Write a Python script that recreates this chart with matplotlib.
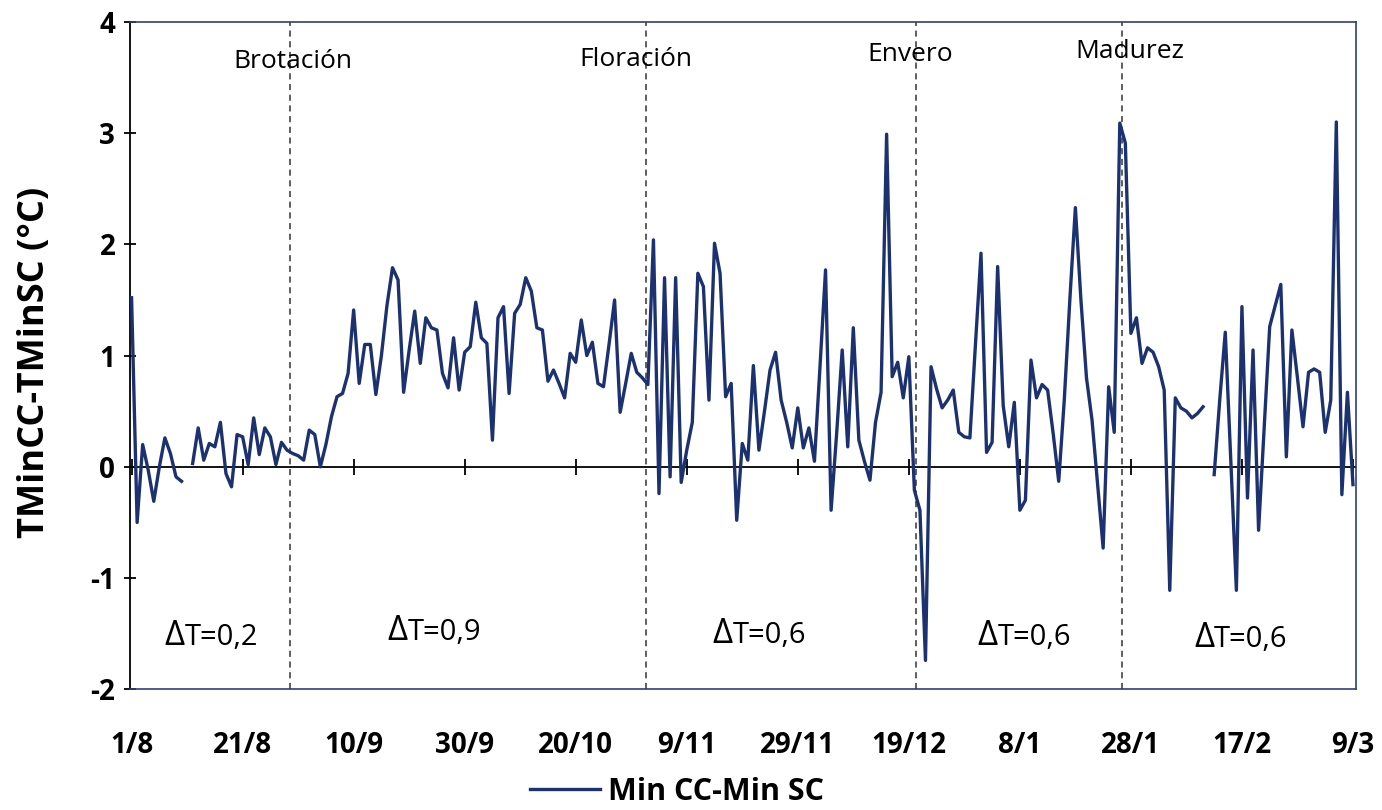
import numpy as np
import matplotlib
matplotlib.use("Agg")
import matplotlib.pyplot as plt

plt.rcParams['font.family'] = ['Open Sans', 'DejaVu Sans']
plt.rcParams['axes.unicode_minus'] = False

# ── data: daily difference TMinCC - TMinSC, starting 1/8 (day 0) ────────────
diff_min = [
    1.52, -0.50, 0.20, -0.03, -0.31, 0.00, 0.26, 0.12, -0.09, -0.13,
    np.nan, 0.03, 0.35, 0.06, 0.21, 0.18, 0.40, -0.06, -0.18, 0.29,
    0.27, 0.02, 0.44, 0.11, 0.35, 0.27, 0.02, 0.22, 0.15, 0.12,
    0.10, 0.06, 0.33, 0.29, 0.00, 0.20, 0.45, 0.63, 0.66, 0.84,
    1.41, 0.75, 1.10, 1.10, 0.65, 1.00, 1.45, 1.79, 1.68, 0.67,
    1.05, 1.40, 0.93, 1.34, 1.25, 1.23, 0.84, 0.71, 1.16, 0.69,
    1.03, 1.08, 1.48, 1.16, 1.11, 0.24, 1.34, 1.44, 0.66, 1.38,
    1.46, 1.70, 1.58, 1.25, 1.23, 0.77, 0.87, 0.75, 0.62, 1.02,
    0.94, 1.32, 1.00, 1.12, 0.75, 0.72, 1.10, 1.50, 0.49, 0.75,
    1.02, 0.85, 0.80, 0.74, 2.04, -0.24, 1.70, -0.09, 1.70, -0.14,
    0.15, 0.40, 1.74, 1.62, 0.60, 2.01, 1.74, 0.63, 0.75, -0.48,
    0.21, 0.06, 0.91, 0.15, 0.50, 0.87, 1.03, 0.60, 0.40, 0.17,
    0.53, 0.17, 0.35, 0.05, 0.90, 1.77, -0.39, 0.30, 1.05, 0.18,
    1.25, 0.24, 0.05, -0.12, 0.40, 0.67, 2.99, 0.81, 0.94, 0.62,
    0.99, -0.21, -0.39, -1.74, 0.90, 0.70, 0.53, 0.60, 0.69, 0.31,
    0.27, 0.26, 1.10, 1.92, 0.13, 0.22, 1.80, 0.55, 0.18, 0.58,
    -0.39, -0.30, 0.96, 0.62, 0.74, 0.69, 0.30, -0.13, 0.60, 1.50,
    2.33, 1.50, 0.80, 0.42, -0.15, -0.73, 0.72, 0.31, 3.09, 2.91,
    1.20, 1.34, 0.93, 1.07, 1.03, 0.90, 0.69, -1.11, 0.62, 0.53,
    0.50, 0.44, 0.48, 0.54, np.nan, -0.07, 0.60, 1.21, 0.05, -1.11,
    1.44, -0.28, 1.05, -0.57, 0.35, 1.26, 1.45, 1.64, 0.09, 1.23,
    0.80, 0.36, 0.85, 0.88, 0.85, 0.31, 0.60, 3.10, -0.25, 0.67,
    -0.16,
]
days = np.arange(len(diff_min))

tick_days = np.arange(0, 221, 20)
tick_labels = ["1/8", "21/8", "10/9", "30/9", "20/10", "9/11",
               "29/11", "19/12", "8/1", "28/1", "17/2", "9/3"]

phase_names = ["Brotación", "Floración", "Envero", "Madurez"]
phase_days = [28.5, 92.6, 141.3, 178.4]
phase_label_pos = [(29.1, 3.64), (90.8, 3.66), (140.2, 3.71), (179.8, 3.73)]

delta_labels = ["T=0,2", "T=0,9", "T=0,6", "T=0,6", "T=0,6"]
delta_pos = [(9.5, -1.60), (49.7, -1.56), (108.3, -1.58), (156.0, -1.60), (195.0, -1.62)]

line_color = "#1c3170"

# ── figure ──────────────────────────────────────────────────────────────────
fig = plt.figure(figsize=(13.82, 8.10), dpi=100)
ax = fig.add_axes([0.094, 0.149, 0.887, 0.824])

ax.plot(days, diff_min, color=line_color, linewidth=2.4, label="Min CC-Min SC",
        solid_joinstyle="round", zorder=3)

ax.axhline(0, color="black", linewidth=1.3, zorder=2)
ax.plot(tick_days, np.zeros(len(tick_days)), linestyle="none", marker="|",
        markersize=11, markeredgewidth=1.3, color="black", zorder=2)

for d in phase_days:
    ax.axvline(d, color="#333333", linestyle=(0, (4, 3)), linewidth=1.1, zorder=1)
for name, (px, py) in zip(phase_names, phase_label_pos):
    ax.text(px, py, name, ha="center", va="center", fontsize=19)

for lbl, (px, py) in zip(delta_labels, delta_pos):
    ax.text(px, py, "Δ", ha="right", va="baseline", fontsize=25)
    ax.text(px, py, lbl, ha="left", va="baseline", fontsize=21)

ax.set_xlim(-0.3, 220.5)
ax.set_ylim(-2, 4)
ax.set_yticks(np.arange(-2, 5, 1))
ax.set_xticks(tick_days)
ax.set_xticklabels(tick_labels)
ax.tick_params(axis="x", length=0, pad=30, labelsize=20)
ax.tick_params(axis="y", direction="inout", length=9, width=1.3, labelsize=20, pad=6)
for t in ax.get_xticklabels() + ax.get_yticklabels():
    t.set_fontweight("bold")

ax.set_ylabel("TMinCC-TMinSC (°C)", fontsize=26, fontweight="bold")
ax.yaxis.set_label_coords(-0.063, 0.49)

for side in ["top", "right", "bottom"]:
    ax.spines[side].set_color("#2f3f7f")
    ax.spines[side].set_linewidth(1.2)
ax.spines["left"].set_color("black")
ax.spines["left"].set_linewidth(1.3)

fig.legend(loc="center", bbox_to_anchor=(0.49, 0.022), frameon=False,
           handlelength=2.3, handletextpad=0.25,
           prop={"size": 22, "weight": "bold"})

fig.savefig("out.png", dpi=100)
